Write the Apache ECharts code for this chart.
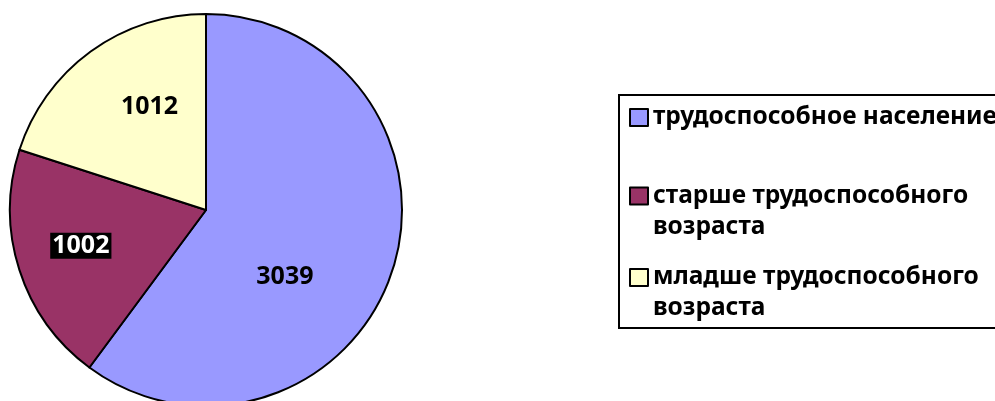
<!DOCTYPE html>
<html>
<head>
<meta charset="utf-8">
<script src="https://cdn.jsdelivr.net/npm/echarts@6/dist/echarts.min.js"></script>
<style>html,body{margin:0;padding:0;background:#fff;}#c{width:995px;height:401px;}</style>
</head>
<body>
<div id="c"></div>
<script>
var categories = ['трудоспособное население', 'старше трудоспособного возраста', 'младше трудоспособного возраста'];
var values = [3039, 1002, 1012];
var colors = ['#9999FF', '#993366', '#FFFFCC'];

var FONT = '"Noto Sans", sans-serif';
var labelOffsets = [[-17, 35], [-29, 5], [3, -21]];

var data = categories.map(function (c, i) {
  var lbl = { offset: labelOffsets[i] };
  if (i === 1) {
    lbl.color = '#fff';
    lbl.backgroundColor = '#000';
    lbl.padding = [0, 2, 0, 2];
    lbl.lineHeight = 26;
  }
  return { name: c, value: values[i], itemStyle: { color: colors[i] }, label: lbl };
});

function wrap(name) {
  var w = name.replace(' возраста', '\nвозраста');
  return w === name ? name : '\n' + w;
}

var legendTops = [102, 149.5, 231];
var legends = categories.map(function (c, i) {
  return {
    data: [c],
    orient: 'vertical',
    left: 629,
    top: legendTops[i],
    padding: 0,
    icon: 'rect',
    itemWidth: 18,
    itemHeight: 17,
    itemGap: 0,
    selectedMode: false,
    formatter: wrap,
    textStyle: {
      fontFamily: FONT,
      fontWeight: 'bold',
      fontSize: 24.5,
      color: '#000',
      lineHeight: 31
    }
  };
});

var chart = echarts.init(document.getElementById('c'), null, { renderer: 'canvas' });
chart.setOption({
  animation: false,
  backgroundColor: '#fff',
  legend: legends,
  graphic: [{
    type: 'rect',
    shape: { x: 619, y: 95, width: 400, height: 233 },
    style: { fill: 'none', stroke: '#000', lineWidth: 2 },
    silent: true
  }],
  series: [{
    type: 'pie',
    center: [206, 210],
    radius: 196,
    startAngle: 90,
    clockwise: true,
    avoidLabelOverlap: false,
    itemStyle: { borderColor: '#000', borderWidth: 2 },
    label: {
      show: true,
      position: 'inside',
      formatter: '{c}',
      fontFamily: FONT,
      fontWeight: 'bold',
      fontSize: 25,
      color: '#000'
    },
    labelLine: { show: false },
    emphasis: { disabled: true },
    data: data
  }]
});
</script>
</body>
</html>
